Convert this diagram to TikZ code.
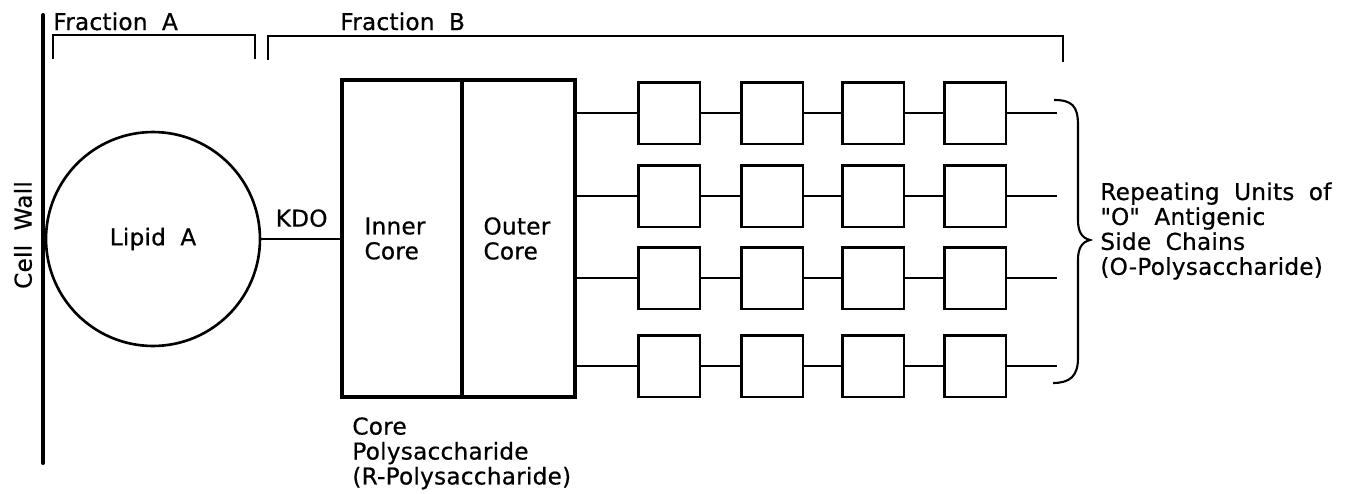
\documentclass[tikz,border=0pt]{standalone}
\usepackage{fontspec}
\setmainfont{DejaVu Sans}[LetterSpace=1, WordSpace=1.9, FakeBold=0.6]
\newfontfamily\plainquote{DejaVu Sans}[FakeBold=0.6]
\usepackage{tikz}
\usetikzlibrary{positioning}

\begin{document}
\begin{tikzpicture}[x=0.02cm, y=-0.02cm,
    every node/.style={font=\fontsize{13.2}{14.2}\selectfont, inner sep=0pt},
    wall/.style={line width=2.3pt, line cap=round},
    bracket/.style={line width=1.1pt},
    corebox/.style={draw, line width=2.2pt, outer sep=0pt, minimum height=6.34cm, align=left},
    unitbox/.style={draw, line width=1.7pt, minimum size=1.24cm},
    link/.style={line width=1.2pt}]
    \useasboundingbox (0,0) rectangle (1347,494);
    \coordinate (walltop) at (43,15);
    \coordinate (wallbot) at (43,463);
    \draw[wall] (walltop) -- (wallbot);
    \node[rotate=90] (walllab) at (23,235) {Cell Wall};
    \draw[bracket] (53,59) -- (53,35) -- (255,35) -- (255,59);
    \node[anchor=base west] (fraca) at (53,30) {Fraction A};
    \draw[bracket] (268,60) -- (268,36) -- (1063,36) -- (1063,62);
    \node[anchor=base west] (fracb) at (340,30) {Fraction B};
    \node[draw, circle, line width=1.5pt, minimum size=4.28cm] (lipid) at (153,239) {Lipid A};
    \node[corebox, minimum width=2.4cm, text width=1.5cm] (inner) at (402,238.5) {Inner\\Core};
    \node[corebox, minimum width=2.26cm, text width=1.4cm, anchor=west] (outer) at (inner.east) {Outer\\Core};
    \draw[link] (lipid) -- (lipid -| inner.west) node[midway, above=0.22cm] (kdo) {KDO};
    \node[anchor=north west, align=left] (corelab) at (352,417) {Core\\Polysaccharide\\(R-Polysaccharide)};
    \foreach \r/\yy in {1/113, 2/196, 3/278, 4/366} {
      \foreach \c/\xx in {1/669, 2/772, 3/873, 4/975}
        \node[unitbox] (u\r\c) at (\xx,\yy) {};
      \coordinate (end\r) at (1057,\yy);
      \draw[link] (outer.east |- u\r1) -- (u\r1) -- (u\r2) -- (u\r3) -- (u\r4) -- (end\r);
    }
    \coordinate (brtop) at (1054,100);
    \coordinate (brtip) at (1090,240);
    \coordinate (brbot) at (1053,383);
    \draw[line width=1.2pt] (brtop) .. controls (1072,100) and (1078,106) .. (1078,125)
      -- (1078,220) .. controls (1078,232) and (1082,238) .. (brtip)
      .. controls (1082,242) and (1078,248) .. (1078,260)
      -- (1078,358) .. controls (1078,376) and (1070,383) .. (brbot);
    \node[anchor=west, align=left] (sidelab) at (1100,231) {Repeating Units of\\{\plainquote"}O{\plainquote"} Antigenic\\Side Chains\\(O-Polysaccharide)};
\end{tikzpicture}
\end{document}
